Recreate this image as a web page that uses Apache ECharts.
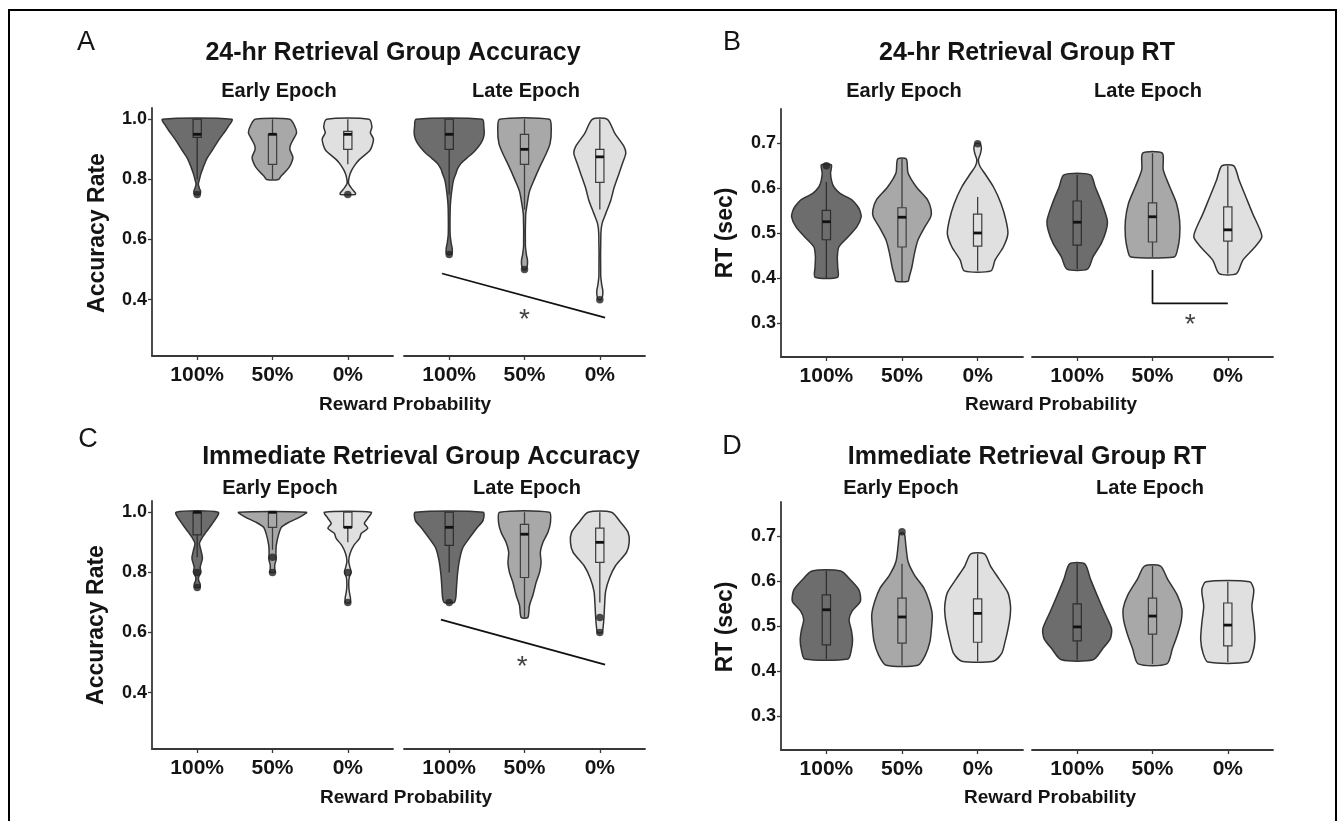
<!DOCTYPE html>
<html>
<head>
<meta charset="utf-8">
<script src="https://cdn.jsdelivr.net/npm/echarts@6/dist/echarts.min.js"></script>
<style>
  html, body { margin: 0; padding: 0; background: #fff; }
  #chart { width: 1338px; height: 821px; }
</style>
</head>
<body>
<div id="chart"></div>
<script>
const categories = ['100%', '50%', '0%']
const accTicks = [0.4, 0.6, 0.8, 1.0]
const rtTicks = [0.3, 0.4, 0.5, 0.6, 0.7]

// violin outlines: [value, half width in category units], top to bottom
// boxes: [lower whisker, q1, median, q3, upper whisker]
// outliers: [category position, value]

// 24-hr group accuracy
const accDelayEarlyViolins = [
  [[1.0, 0.46], [0.975, 0.41], [0.953, 0.35], [0.925, 0.27], [0.897, 0.2], [0.87, 0.13], [0.84, 0.08], [0.815, 0.045], [0.8, 0.03], [0.785, 0.015], [0.77, 0.03], [0.76, 0.045], [0.75, 0.035]],
  [[1.0, 0.23], [0.98, 0.29], [0.955, 0.32], [0.935, 0.28], [0.915, 0.24], [0.9, 0.23], [0.875, 0.27], [0.86, 0.26], [0.84, 0.22], [0.82, 0.15], [0.81, 0.11], [0.8, 0.08]],
  [[1.0, 0.28], [0.975, 0.32], [0.955, 0.3], [0.935, 0.34], [0.91, 0.32], [0.895, 0.29], [0.88, 0.22], [0.865, 0.15], [0.85, 0.1], [0.83, 0.05], [0.81, 0.02], [0.787, 0.01], [0.77, 0.05], [0.755, 0.1], [0.75, 0.1]]
]
const accDelayEarlyBoxes = [
  [0.8, 0.94, 0.95, 1.0, 1.0],
  [0.8, 0.85, 0.95, 0.95, 1.0],
  [0.85, 0.9, 0.95, 0.96, 1.0]
]
const accDelayEarlyOutliers = [[1, 0.75], [3, 0.75]]

const accDelayLateViolins = [
  [[1.0, 0.44], [0.975, 0.46], [0.953, 0.465], [0.935, 0.45], [0.92, 0.42], [0.9, 0.36], [0.887, 0.31], [0.87, 0.23], [0.853, 0.155], [0.835, 0.11], [0.82, 0.09], [0.8, 0.06], [0.773, 0.04], [0.73, 0.02], [0.7, 0.013], [0.62, 0.012], [0.59, 0.025], [0.57, 0.04], [0.555, 0.04], [0.55, 0.02]],
  [[1.0, 0.33], [0.967, 0.355], [0.92, 0.34], [0.887, 0.29], [0.84, 0.2], [0.8, 0.13], [0.76, 0.066], [0.71, 0.03], [0.68, 0.015], [0.58, 0.012], [0.55, 0.025], [0.53, 0.04], [0.51, 0.035], [0.5, 0.015]],
  [[1.0, 0.1], [0.953, 0.2], [0.91, 0.32], [0.887, 0.345], [0.853, 0.3], [0.82, 0.255], [0.773, 0.19], [0.73, 0.145], [0.687, 0.08], [0.653, 0.03], [0.62, 0.014], [0.48, 0.012], [0.45, 0.025], [0.43, 0.04], [0.41, 0.035], [0.4, 0.015]]
]
const accDelayLateBoxes = [
  [0.75, 0.9, 0.95, 1.0, 1.0],
  [0.7, 0.85, 0.9, 0.95, 1.0],
  [0.7, 0.79, 0.875, 0.9, 1.0]
]
const accDelayLateOutliers = [[1, 0.55], [2, 0.5], [3, 0.4]]
const accDelaySigLine = [[0.905, 0.487], [3.07, 0.34]]
const accDelayStar = [[2.0, 0.352]]

// 24-hr group RT
const rtDelayEarlyViolins = [
  [[0.651, 0.066], [0.633, 0.055], [0.615, 0.07], [0.602, 0.1], [0.588, 0.18], [0.573, 0.34], [0.56, 0.41], [0.551, 0.44], [0.536, 0.46], [0.513, 0.4], [0.49, 0.28], [0.469, 0.165], [0.447, 0.145], [0.424, 0.15], [0.402, 0.15]],
  [[0.664, 0.057], [0.633, 0.08], [0.602, 0.19], [0.573, 0.34], [0.551, 0.385], [0.536, 0.38], [0.513, 0.3], [0.484, 0.21], [0.455, 0.165], [0.424, 0.13], [0.402, 0.095], [0.393, 0.08]],
  [[0.698, 0.03], [0.688, 0.05], [0.675, 0.035], [0.662, 0.01], [0.648, 0.03], [0.633, 0.09], [0.602, 0.21], [0.565, 0.31], [0.528, 0.375], [0.498, 0.4], [0.469, 0.34], [0.44, 0.23], [0.416, 0.176]]
]
const rtDelayEarlyBoxes = [
  [0.40, 0.485, 0.525, 0.55, 0.613],
  [0.393, 0.469, 0.535, 0.556, 0.664],
  [0.416, 0.471, 0.5, 0.542, 0.58]
]
const rtDelayEarlyOutliers = [[1, 0.649], [3, 0.698]]

const rtDelayLateViolins = [
  [[0.629, 0.176], [0.602, 0.24], [0.565, 0.33], [0.528, 0.4], [0.506, 0.385], [0.477, 0.32], [0.447, 0.21], [0.42, 0.137]],
  [[0.677, 0.13], [0.64, 0.143], [0.602, 0.23], [0.565, 0.32], [0.528, 0.36], [0.491, 0.36], [0.462, 0.33], [0.447, 0.29]],
  [[0.649, 0.08], [0.617, 0.15], [0.58, 0.24], [0.543, 0.33], [0.506, 0.43], [0.49, 0.45], [0.469, 0.36], [0.44, 0.2], [0.41, 0.115]]
]
const rtDelayLateBoxes = [
  [0.42, 0.473, 0.524, 0.571, 0.629],
  [0.447, 0.48, 0.536, 0.567, 0.677],
  [0.41, 0.482, 0.507, 0.558, 0.649]
]
const rtDelayLateOutliers = []
const rtDelaySigBracket = [[2, 0.418], [2, 0.344], [3, 0.344]]
const rtDelayStar = [[2.5, 0.309]]

// immediate group accuracy
const accImmEarlyViolins = [
  [[1.0, 0.28], [0.967, 0.215], [0.933, 0.115], [0.917, 0.07], [0.897, 0.03], [0.873, 0.05], [0.847, 0.07], [0.817, 0.04], [0.8, 0.05], [0.785, 0.02], [0.773, 0.02], [0.76, 0.04], [0.75, 0.035]],
  [[1.0, 0.45], [0.983, 0.355], [0.967, 0.22], [0.95, 0.118], [0.923, 0.078], [0.89, 0.05], [0.863, 0.045], [0.845, 0.05], [0.825, 0.03], [0.81, 0.03], [0.8, 0.035]],
  [[1.0, 0.31], [0.98, 0.265], [0.963, 0.22], [0.947, 0.265], [0.93, 0.18], [0.913, 0.155], [0.89, 0.08], [0.863, 0.03], [0.837, 0.012], [0.815, 0.03], [0.8, 0.045], [0.785, 0.02], [0.76, 0.012], [0.735, 0.02], [0.715, 0.035], [0.7, 0.03]]
]
const accImmEarlyBoxes = [
  [0.85, 0.925, 1.0, 1.0, 1.0],
  [0.875, 0.95, 1.0, 1.0, 1.0],
  [0.9, 0.95, 0.95, 1.0, 1.0]
]
const accImmEarlyOutliers = [[1, 0.8], [1, 0.75], [2, 0.85], [2, 0.8], [3, 0.8], [3, 0.7]]

const accImmLateViolins = [
  [[1.0, 0.45], [0.973, 0.45], [0.947, 0.365], [0.913, 0.265], [0.88, 0.177], [0.837, 0.133], [0.793, 0.11], [0.75, 0.097], [0.717, 0.088], [0.7, 0.066]],
  [[1.0, 0.33], [0.967, 0.345], [0.933, 0.31], [0.9, 0.245], [0.867, 0.21], [0.833, 0.22], [0.8, 0.2], [0.767, 0.155], [0.723, 0.11], [0.69, 0.066], [0.65, 0.044]],
  [[1.0, 0.155], [0.967, 0.275], [0.933, 0.375], [0.9, 0.39], [0.867, 0.355], [0.823, 0.21], [0.78, 0.126], [0.737, 0.077], [0.693, 0.064], [0.65, 0.055], [0.62, 0.045], [0.6, 0.03]]
]
const accImmLateBoxes = [
  [0.8, 0.89, 0.95, 1.0, 1.0],
  [0.65, 0.783, 0.927, 0.96, 1.0],
  [0.7, 0.833, 0.9, 0.947, 1.0]
]
const accImmLateOutliers = [[1, 0.7], [3, 0.65], [3, 0.6]]
const accImmSigLine = [[0.89, 0.643], [3.07, 0.493]]
const accImmStar = [[1.97, 0.503]]

// immediate group RT
const rtImmEarlyViolins = [
  [[0.622, 0.19], [0.602, 0.32], [0.58, 0.43], [0.555, 0.45], [0.533, 0.34], [0.514, 0.3], [0.491, 0.33], [0.469, 0.346], [0.447, 0.33], [0.427, 0.287]],
  [[0.705, 0.03], [0.68, 0.05], [0.643, 0.08], [0.613, 0.165], [0.584, 0.29], [0.555, 0.36], [0.525, 0.4], [0.495, 0.39], [0.466, 0.37], [0.436, 0.31], [0.413, 0.21]],
  [[0.66, 0.09], [0.633, 0.17], [0.604, 0.285], [0.574, 0.4], [0.544, 0.435], [0.522, 0.43], [0.492, 0.4], [0.463, 0.36], [0.44, 0.32], [0.422, 0.21]]
]
const rtImmEarlyBoxes = [
  [0.427, 0.458, 0.536, 0.569, 0.622],
  [0.413, 0.462, 0.52, 0.562, 0.638],
  [0.422, 0.464, 0.528, 0.56, 0.66]
]
const rtImmEarlyOutliers = [[2, 0.709]]

const rtImmLateViolins = [
  [[0.638, 0.1], [0.604, 0.176], [0.568, 0.265], [0.531, 0.36], [0.494, 0.456], [0.472, 0.44], [0.45, 0.34], [0.425, 0.21]],
  [[0.633, 0.106], [0.604, 0.2], [0.568, 0.33], [0.538, 0.39], [0.51, 0.38], [0.48, 0.33], [0.45, 0.265], [0.416, 0.19]],
  [[0.598, 0.29], [0.58, 0.345], [0.544, 0.32], [0.507, 0.345], [0.47, 0.36], [0.44, 0.33], [0.42, 0.265]]
]
const rtImmLateBoxes = [
  [0.425, 0.467, 0.498, 0.549, 0.638],
  [0.416, 0.482, 0.522, 0.562, 0.633],
  [0.42, 0.456, 0.502, 0.551, 0.598]
]
const rtImmLateOutliers = []

const FONT = '"Liberation Sans", Arial, sans-serif'
const INK = '#141414'
const AXIS = '#383838'
const fills = ['#6d6d6d', '#a8a8a8', '#e0e0e0']

const accRange = [0.2125, 1.0375]
const rtRange = [0.225, 0.775]

// 8 facets, two per panel
const facets = [
  { grid: { left: 152, top: 108, width: 241, height: 248 }, range: accRange, ticks: accTicks, showY: true, violins: accDelayEarlyViolins, boxes: accDelayEarlyBoxes, outliers: accDelayEarlyOutliers },
  { grid: { left: 404, top: 108, width: 241, height: 248 }, range: accRange, ticks: accTicks, showY: false, violins: accDelayLateViolins, boxes: accDelayLateBoxes, outliers: accDelayLateOutliers, sig: accDelaySigLine, star: accDelayStar },
  { grid: { left: 781, top: 109, width: 242, height: 248 }, range: rtRange, ticks: rtTicks, showY: true, violins: rtDelayEarlyViolins, boxes: rtDelayEarlyBoxes, outliers: rtDelayEarlyOutliers },
  { grid: { left: 1032, top: 109, width: 241, height: 248 }, range: rtRange, ticks: rtTicks, showY: false, violins: rtDelayLateViolins, boxes: rtDelayLateBoxes, outliers: rtDelayLateOutliers, sig: rtDelaySigBracket, star: rtDelayStar },
  { grid: { left: 152, top: 501, width: 241, height: 248 }, range: accRange, ticks: accTicks, showY: true, violins: accImmEarlyViolins, boxes: accImmEarlyBoxes, outliers: accImmEarlyOutliers },
  { grid: { left: 404, top: 501, width: 241, height: 248 }, range: accRange, ticks: accTicks, showY: false, violins: accImmLateViolins, boxes: accImmLateBoxes, outliers: accImmLateOutliers, sig: accImmSigLine, star: accImmStar },
  { grid: { left: 781, top: 502, width: 242, height: 248 }, range: rtRange, ticks: rtTicks, showY: true, violins: rtImmEarlyViolins, boxes: rtImmEarlyBoxes, outliers: rtImmEarlyOutliers },
  { grid: { left: 1032, top: 502, width: 241, height: 248 }, range: rtRange, ticks: rtTicks, showY: false, violins: rtImmLateViolins, boxes: rtImmLateBoxes, outliers: rtImmLateOutliers }
]

const chart = echarts.init(document.getElementById('chart'), null, { renderer: 'canvas' })

const grid = facets.map(f => f.grid)

const xAxis = facets.map((f, i) => ({
  gridIndex: i,
  type: 'value',
  min: 0.4,
  max: 3.6,
  axisLine: { show: true, onZero: false, lineStyle: { color: AXIS, width: 1.8 } },
  axisTick: { show: true, customValues: [1, 2, 3], length: 4, lineStyle: { color: AXIS, width: 1.3 } },
  axisLabel: {
    customValues: [1, 2, 3],
    formatter: v => categories[Math.round(v) - 1],
    fontFamily: FONT, fontSize: 21, fontWeight: 'bold', color: INK, margin: 9
  },
  splitLine: { show: false }
}))

const yAxis = facets.map((f, i) => ({
  gridIndex: i,
  type: 'value',
  min: f.range[0],
  max: f.range[1],
  axisLine: { show: f.showY, onZero: false, lineStyle: { color: AXIS, width: 1.8 } },
  axisTick: { show: f.showY, customValues: f.ticks, length: 4, lineStyle: { color: AXIS, width: 1.3 } },
  axisLabel: {
    show: f.showY,
    customValues: f.ticks,
    formatter: v => v.toFixed(1),
    fontFamily: FONT, fontSize: 18, fontWeight: 'bold', color: INK, margin: 5
  },
  splitLine: { show: false }
}))

// violin + box drawn from the profile / box arrays through the axis scales
const violinSeries = facets.map((f, fi) => ({
  type: 'custom',
  xAxisIndex: fi,
  yAxisIndex: fi,
  data: categories.map((c, ci) => [ci + 1]),
  encode: { x: 0 },
  silent: true,
  renderItem: (params, api) => {
    const ci = params.dataIndex
    const x = api.value(0)
    const prof = f.violins[ci]
    const right = prof.map(([v, w]) => api.coord([x + w, v]))
    const left = prof.slice().reverse().map(([v, w]) => api.coord([x - w, v]))
    const [lo, q1, med, q3, hi] = f.boxes[ci]
    const bw = 0.055
    const b1 = api.coord([x - bw, q3])
    const b2 = api.coord([x + bw, q1])
    const m1 = api.coord([x - bw, med])
    const m2 = api.coord([x + bw, med])
    const top = api.coord([x, hi])
    const boxTop = api.coord([x, q3])
    const boxBot = api.coord([x, q1])
    const bot = api.coord([x, lo])
    const edge = ci === 0 ? '#2e2e2e' : '#3e3e3e'
    return {
      type: 'group',
      children: [
        {
          type: 'polygon',
          shape: { points: right.concat(left), smooth: 0.25 },
          style: { fill: fills[ci], stroke: '#333', lineWidth: 1.5 }
        },
        { type: 'line', shape: { x1: top[0], y1: top[1], x2: boxTop[0], y2: boxTop[1] }, style: { stroke: edge, lineWidth: 1.3 } },
        { type: 'line', shape: { x1: boxBot[0], y1: boxBot[1], x2: bot[0], y2: bot[1] }, style: { stroke: edge, lineWidth: 1.3 } },
        {
          type: 'rect',
          shape: { x: b1[0], y: b1[1], width: b2[0] - b1[0], height: Math.max(b2[1] - b1[1], 1) },
          style: { fill: fills[ci], stroke: edge, lineWidth: 1.2 }
        },
        { type: 'line', shape: { x1: m1[0], y1: m1[1], x2: m2[0], y2: m2[1] }, style: { stroke: '#111', lineWidth: 2.8 } }
      ]
    }
  }
}))

const outlierSeries = facets.map((f, fi) => ({
  type: 'scatter',
  xAxisIndex: fi,
  yAxisIndex: fi,
  data: f.outliers,
  symbol: 'circle',
  symbolSize: 7.5,
  itemStyle: { color: '#222' },
  z: 5,
  silent: true
}))

const sigSeries = []
facets.forEach((f, fi) => {
  if (f.sig) {
    sigSeries.push({
      type: 'line',
      xAxisIndex: fi,
      yAxisIndex: fi,
      data: f.sig,
      symbol: 'none',
      lineStyle: { color: '#111', width: 1.7 },
      z: 4,
      silent: true
    })
  }
  if (f.star) {
    sigSeries.push({
      type: 'scatter',
      xAxisIndex: fi,
      yAxisIndex: fi,
      data: f.star,
      symbolSize: 1,
      itemStyle: { color: 'rgba(0,0,0,0)' },
      label: { show: true, position: 'inside', formatter: '*', fontFamily: FONT, fontSize: 28, color: '#111', offset: [0, 6] },
      silent: true
    })
  }
})

const txt = (text, x, y, size, weight, extra) => Object.assign({
  type: 'text',
  x, y,
  style: {
    text,
    fontFamily: FONT,
    fontSize: size,
    fontWeight: weight,
    fill: INK,
    textAlign: 'center',
    textVerticalAlign: 'middle'
  },
  silent: true
}, extra || {})

const graphic = [
  // figure frame (open at the bottom)
  {
    type: 'polyline',
    shape: { points: [[9, 821], [9, 10], [1336, 10], [1336, 821]] },
    style: { stroke: '#000', lineWidth: 2, fill: null },
    silent: true
  },
  txt('A', 86, 43, 27, 'normal'),
  txt('B', 732, 43, 27, 'normal'),
  txt('C', 88, 440, 27, 'normal'),
  txt('D', 732, 447, 27, 'normal'),
  txt('24-hr Retrieval Group Accuracy', 393, 53, 25, 'bold'),
  txt('24-hr Retrieval Group RT', 1027, 53, 25, 'bold'),
  txt('Immediate Retrieval Group Accuracy', 421, 457, 25, 'bold'),
  txt('Immediate Retrieval Group RT', 1027, 457, 25, 'bold'),
  txt('Early Epoch', 279, 91, 20, 'bold'),
  txt('Late Epoch', 526, 91, 20, 'bold'),
  txt('Early Epoch', 904, 91, 20, 'bold'),
  txt('Late Epoch', 1148, 91, 20, 'bold'),
  txt('Early Epoch', 280, 488, 20, 'bold'),
  txt('Late Epoch', 527, 488, 20, 'bold'),
  txt('Early Epoch', 901, 488, 20, 'bold'),
  txt('Late Epoch', 1150, 488, 20, 'bold'),
  txt('Reward Probability', 405, 405, 19, 'bold'),
  txt('Reward Probability', 1051, 405, 19, 'bold'),
  txt('Reward Probability', 406, 798, 19, 'bold'),
  txt('Reward Probability', 1050, 798, 19, 'bold'),
  txt('Accuracy Rate', 98, 233, 23, 'bold', { rotation: Math.PI / 2 }),
  txt('RT (sec)', 726, 233, 23, 'bold', { rotation: Math.PI / 2 }),
  txt('Accuracy Rate', 97, 625, 23, 'bold', { rotation: Math.PI / 2 }),
  txt('RT (sec)', 726, 627, 23, 'bold', { rotation: Math.PI / 2 })
]

chart.setOption({
  backgroundColor: '#fff',
  animation: false,
  grid,
  xAxis,
  yAxis,
  series: [...violinSeries, ...outlierSeries, ...sigSeries],
  graphic
})
</script>
</body>
</html>
